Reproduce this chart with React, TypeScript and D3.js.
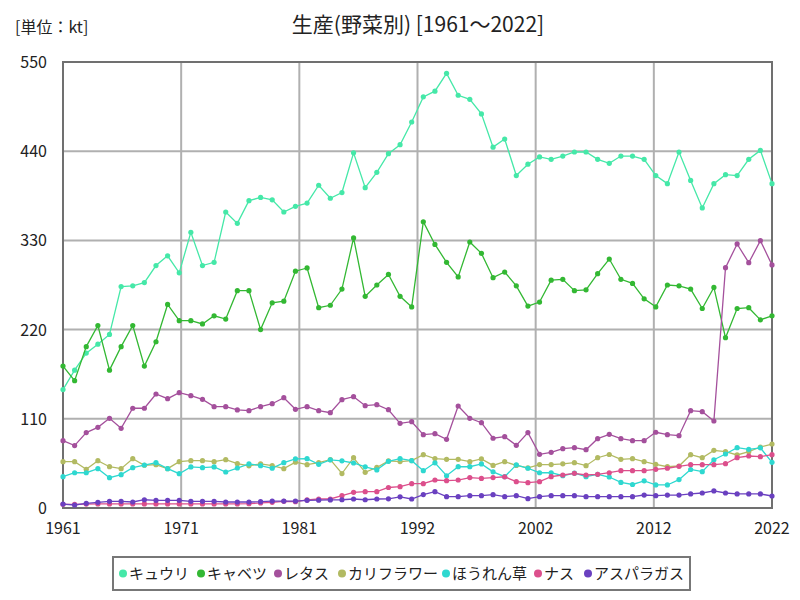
import React from 'react';
import * as d3 from 'd3';

const years: number[] = d3.range(1961, 2023);

const seriesNames = ['キュウリ', 'キャベツ', 'レタス', 'カリフラワー', 'ほうれん草', 'ナス', 'アスパラガス'];
const seriesColors = ['#45e8a8', '#33b833', '#a4509c', '#b2ba62', '#2ed8d0', '#dc4f8c', '#6a40c0'];

const cucumber = [146, 170, 191, 202, 214, 273, 274, 278, 299, 311,
  290, 340, 299, 303, 365, 351, 379, 383, 380, 365,
  372, 376, 398, 382, 389, 438, 395, 414, 437, 448,
  476, 507, 514, 536, 509, 504, 486, 445, 455, 410,
  424, 433, 430, 434, 439, 439, 430, 425, 434, 434,
  430, 410, 400, 439, 404, 370, 400, 411, 410, 430,
  441, 400];
const cabbage = [175, 157, 199, 225, 170, 199, 225, 175, 205, 251,
  231, 231, 227, 237, 233, 268, 268, 220, 253, 255,
  292, 296, 247, 250, 270, 333, 261, 275, 288, 261,
  248, 353, 325, 303, 285, 328, 314, 284, 291, 274,
  249, 254, 281, 282, 268, 269, 289, 307, 282, 277,
  258, 248, 275, 274, 270, 246, 272, 210, 246, 247,
  232, 237];
const lettuce = [83, 77, 93, 99.5, 110.6, 98.3, 123, 123, 140.6, 134.8,
  142.2, 138.5, 134, 125, 125, 121, 120, 125, 128.6, 136,
  121.7, 125, 120, 117.5, 133.6, 137.3, 126.2, 127.4, 121.2, 104.4,
  106.4, 90.4, 91.6, 84.7, 125.8, 110.6, 105.2, 86, 87.9, 77.3,
  93, 66.2, 68.7, 73.1, 74.4, 71.9, 85.5, 90.8, 85.5, 83,
  83, 93.4, 90.4, 89.2, 120, 118.8, 107.3, 296.4, 325.6, 302.5,
  329.6, 299.7];
const cauliflower = [57.1, 57.1, 47.7, 58.3, 50.9, 48.5, 60.8, 52.7, 53.4, 48.5,
  57.1, 58.3, 58.3, 57.1, 59.6, 54.6, 52, 54.3, 52.2, 48.5,
  56.5, 53.4, 56, 59.6, 42.5, 62, 44, 50, 58, 57.3,
  58.5, 65.7, 61, 60, 60, 57.1, 60.5, 52.5, 57.1, 52.5,
  49.5, 53.6, 53.6, 54.5, 55.9, 52.2, 62, 66, 60, 60.8,
  57.1, 53.9, 50.9, 51.8, 65.7, 62, 71.1, 69.4, 65.4, 69.4,
  75.2, 78.9];
const spinach = [38.6, 43.5, 43.5, 48.5, 37.4, 41.1, 49.7, 53, 55.9, 48.5,
  42.3, 50.6, 49.7, 50.6, 44.4, 49.3, 54.4, 52.2, 49, 55.9,
  60.6, 60.8, 53.9, 59.4, 58.2, 55.5, 50.8, 47, 57.5, 60.8,
  58.3, 46, 55.7, 39.8, 50.9, 50.9, 54.4, 44.6, 38.6, 53.2,
  49, 43.5, 43.5, 39.8, 43, 38.6, 41.5, 38.2, 31.5, 29,
  33.5, 28.4, 28.4, 35, 47.5, 44.8, 59.5, 66.6, 74.4, 72.4,
  74.2, 56.3];
const eggplant = [4.5, 4.5, 4.8, 5, 5, 5, 5, 5, 5, 5,
  5, 5, 5, 5, 5, 5, 5.3, 6.2, 7, 8.2,
  7.8, 9.9, 11.1, 11.1, 15.2, 19.3, 20.1, 20.1, 25.3, 26.3,
  30, 30, 34.5, 33.7, 34.5, 37.5, 36.5, 37.5, 38.5, 32.5,
  31.2, 32.5, 38.6, 40.7, 42.8, 40.7, 41.5, 43.5, 46, 46,
  46, 47.7, 49, 51.4, 53.4, 53.4, 53.4, 54.6, 62, 64.1,
  63.3, 65.7];
const asparagus = [4.9, 3.7, 5.8, 7, 8.2, 8.2, 7.4, 10.2, 9.5, 9.5,
  9.5, 8.2, 8.2, 8.2, 7.4, 7.4, 7.4, 7.8, 8.6, 8.6,
  8.6, 9.5, 9.7, 10, 10.2, 11.1, 10.2, 11.1, 11.3, 13.8,
  11.1, 16.5, 20.1, 14, 14, 15.2, 15.2, 16.4, 14, 15.2,
  11.5, 14, 15.2, 15.2, 15.2, 14, 14, 14, 14, 14,
  16, 15.2, 16, 16, 17.3, 18.5, 21, 18.5, 17.3, 17.3,
  17.3, 14.8];

const seriesValues = [cucumber, cabbage, lettuce, cauliflower, spinach, eggplant, asparagus];

const yTicks = [0, 110, 220, 330, 440, 550];
const xTickLabels = ['1961', '1971', '1981', '1992', '2002', '2012', '2022'];

const FONT = "'Noto Sans CJK JP', 'Noto Sans', sans-serif";

export default function App() {
  const W = 800, H = 600;
  const left = 63, right = 772, top = 62, bottom = 508;
  const x = d3.scaleLinear().domain([1961, 2022]).range([left, right]);
  const y = d3.scaleLinear().domain([0, 550]).range([bottom, top]);
  const tickPos = d3.scaleLinear().domain([0, xTickLabels.length - 1]).range([1961, 2022]);
  const line = d3.line<number>().x((_, i) => x(years[i])).y((d) => y(d));

  const legendX = [118, 196, 273, 337, 441, 533, 583];

  return (
    <div style={{ margin: -8 }}>
      <svg width={W} height={H} style={{ display: 'block', background: '#fff' }} fontFamily={FONT}>
        <rect x={0} y={0} width={W} height={H} fill="#fff" />
        <text x={15} y={33} fontSize={16} fill="#222">[単位：kt]</text>
        <text x={418} y={32} fontSize={21} fill="#222" textAnchor="middle">生産(野菜別) [1961～2022]</text>

        {/* grid */}
        {yTicks.map((t) => (
          <line key={'gy' + t} x1={left} x2={right} y1={y(t)} y2={y(t)} stroke="#b0b0b0" strokeWidth={2} />
        ))}
        {xTickLabels.map((lab, k) => (
          <line key={'gx' + lab} x1={x(tickPos(k))} x2={x(tickPos(k))} y1={top} y2={bottom} stroke="#b0b0b0" strokeWidth={2} />
        ))}
        <rect x={left} y={top} width={right - left} height={bottom - top} fill="none" stroke="#707070" strokeWidth={2} />

        {/* y labels */}
        {yTicks.map((t) => (
          <text key={'yl' + t} x={47} y={y(t) + 6} fontSize={16} textAnchor="end" fill="#222">{t}</text>
        ))}
        {/* x labels */}
        {xTickLabels.map((lab, k) => (
          <text key={'xl' + lab} x={x(tickPos(k))} y={534} fontSize={16} textAnchor="middle" fill="#222">{lab}</text>
        ))}

        {/* series */}
        {seriesValues.map((vals, si) => (
          <g key={'s' + si}>
            <path d={line(vals) || ''} fill="none" stroke={seriesColors[si]} strokeWidth={1.3} />
            {vals.map((v, i) => (
              <circle key={i} cx={x(years[i])} cy={y(v)} r={2.6} fill={seriesColors[si]} />
            ))}
          </g>
        ))}

        {/* legend */}
        <rect x={113} y={557} width={577} height={33} fill="#fff" stroke="#777" strokeWidth={2} />
        {seriesNames.map((n, i) => (
          <g key={'lg' + i}>
            <circle cx={legendX[i] + 5} cy={573.5} r={4} fill={seriesColors[i]} />
            <text x={legendX[i] + 11} y={579} fontSize={15} fill="#222">{n}</text>
          </g>
        ))}
      </svg>
    </div>
  );
}
